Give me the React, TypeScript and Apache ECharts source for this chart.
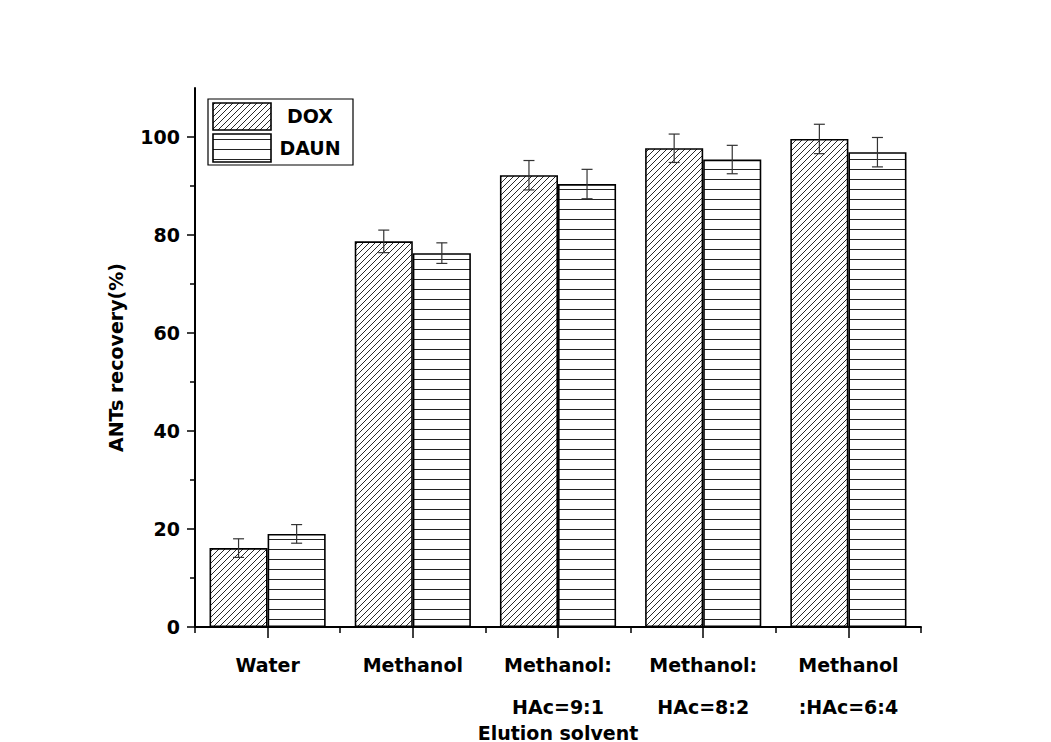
import React, { useEffect, useRef } from "react";
import * as echarts from "echarts";

const categories = [
  "Water",
  "Methanol",
  "Methanol:\nHAc=9:1",
  "Methanol:\nHAc=8:2",
  "Methanol\n:HAc=6:4",
];
const doxValues = [16.1, 78.7, 92.2, 97.7, 99.6];
const doxErrors = [1.9, 2.3, 3.0, 2.9, 3.0];
const daunValues = [19.0, 76.3, 90.4, 95.4, 96.9];
const daunErrors = [1.9, 2.1, 3.0, 2.9, 3.0];
const yMajorTicks = [0, 20, 40, 60, 80, 100];
const yMinorTicks = [10, 30, 50, 70, 90];
const seriesNames = ["DOX", "DAUN"];

const FONT = "DejaVu Sans";

function makeDiag(): HTMLCanvasElement {
  const s = 6;
  const c = document.createElement("canvas");
  c.width = s;
  c.height = s;
  const ctx = c.getContext("2d")!;
  ctx.fillStyle = "#fff";
  ctx.fillRect(0, 0, s, s);
  ctx.strokeStyle = "#2a2a2a";
  ctx.lineWidth = 1;
  ctx.beginPath();
  ctx.moveTo(0, s);
  ctx.lineTo(s, 0);
  ctx.moveTo(-1, 1);
  ctx.lineTo(1, -1);
  ctx.moveTo(s - 1, s + 1);
  ctx.lineTo(s + 1, s - 1);
  ctx.stroke();
  return c;
}

function makeHoriz(): HTMLCanvasElement {
  const c = document.createElement("canvas");
  c.width = 6;
  c.height = 10;
  const ctx = c.getContext("2d")!;
  ctx.fillStyle = "#fff";
  ctx.fillRect(0, 0, 6, 10);
  ctx.fillStyle = "#222";
  ctx.fillRect(0, 9, 6, 1);
  return c;
}

export default function App() {
  const ref = useRef<HTMLDivElement>(null);

  useEffect(() => {
    document.body.style.margin = "0";
    if (!ref.current) return;
    const chart = echarts.init(ref.current, undefined, { renderer: "svg" });

    const diag = { image: makeDiag(), repeat: "repeat" } as any;
    const horiz = { image: makeHoriz(), repeat: "repeat" } as any;

    const errData = (vals: number[], errs: number[], sign: number) =>
      vals.map((v, i) => [i, v, errs[i], sign]);

    const renderErr = (params: any, api: any) => {
      const idx = api.value(0);
      const v = api.value(1);
      const e = api.value(2);
      const sign = api.value(3);
      const band = api.size([1, 0])[0];
      const top = api.coord([idx, v + e]);
      const bot = api.coord([idx, v - e]);
      const x = top[0] + sign * band * 0.2;
      const cap = 5.5;
      const style = { stroke: "#333", lineWidth: 1.2 };
      return {
        type: "group",
        children: [
          { type: "line", shape: { x1: x, y1: top[1], x2: x, y2: bot[1] }, style },
          { type: "line", shape: { x1: x - cap, y1: top[1], x2: x + cap, y2: top[1] }, style },
          { type: "line", shape: { x1: x - cap, y1: bot[1], x2: x + cap, y2: bot[1] }, style },
        ],
      };
    };

    const labelStyle = {
      color: "#000",
      fontSize: 19,
      fontWeight: "bold",
      fontFamily: FONT,
    };

    const option: any = {
      animation: false,
      backgroundColor: "#fff",
      textStyle: { fontFamily: FONT },
      grid: {
        left: 195,
        right: 130,
        top: 88,
        height: 539,
        containLabel: false,
        outerBoundsMode: "none",
      },
      xAxis: [
        {
          type: "category",
          data: categories,
          position: "bottom",
          axisLine: { onZero: false, lineStyle: { color: "#000", width: 2 } },
          axisTick: { show: true, length: 6, lineStyle: { color: "#000", width: 1.5 } },
          axisLabel: { ...labelStyle, interval: 0, lineHeight: 42, margin: 17 },
          splitLine: { show: false },
          name: "Elution solvent",
          nameLocation: "middle",
          nameGap: 96,
          nameMoveOverlap: false,
          nameTextStyle: { ...labelStyle },
        },
        {
          type: "category",
          data: categories,
          position: "bottom",
          axisLine: { show: false, onZero: false },
          axisTick: { show: true, alignWithLabel: true, length: 11, lineStyle: { color: "#000", width: 1.5 } },
          axisLabel: { show: false },
          splitLine: { show: false },
        },
      ],
      yAxis: [
        {
          type: "value",
          min: 0,
          max: 110,
          position: "left",
          axisLine: { show: true, lineStyle: { color: "#000", width: 2 } },
          axisTick: { show: true, length: 8, customValues: yMajorTicks, lineStyle: { color: "#000", width: 1.5 } },
          axisLabel: { ...labelStyle, customValues: yMajorTicks, margin: 15 },
          splitLine: { show: false },
          name: "ANTs recovery(%)",
          nameLocation: "middle",
          nameRotate: 90,
          nameGap: 70,
          nameMoveOverlap: false,
          nameTextStyle: { ...labelStyle },
        },
        {
          type: "value",
          min: 0,
          max: 110,
          position: "left",
          axisLine: { show: false },
          axisTick: { show: true, length: 5, customValues: yMinorTicks, lineStyle: { color: "#000", width: 1.5 } },
          axisLabel: { show: false },
          splitLine: { show: false },
        },
      ],
      series: [
        {
          type: "bar",
          name: seriesNames[0],
          data: doxValues,
          barGap: "0%",
          barCategoryGap: "20%",
          itemStyle: { color: diag, borderColor: "#000", borderWidth: 1.6 },
        },
        {
          type: "bar",
          name: seriesNames[1],
          data: daunValues,
          barGap: "0%",
          barCategoryGap: "20%",
          itemStyle: { color: horiz, borderColor: "#000", borderWidth: 1.6 },
        },
        {
          type: "custom",
          name: "DOX error",
          data: errData(doxValues, doxErrors, -1),
          encode: { x: 0, y: 1 },
          renderItem: renderErr,
          z: 5,
        },
        {
          type: "custom",
          name: "DAUN error",
          data: errData(daunValues, daunErrors, 1),
          encode: { x: 0, y: 1 },
          renderItem: renderErr,
          z: 5,
        },
      ],
      graphic: [
        {
          type: "rect",
          shape: { x: 208, y: 99, width: 145, height: 66 },
          style: { fill: "#fff", stroke: "#000", lineWidth: 1.2 },
        },
        {
          type: "rect",
          shape: { x: 213, y: 103, width: 58, height: 27 },
          style: { fill: diag, stroke: "#000", lineWidth: 1.6 },
        },
        {
          type: "rect",
          shape: { x: 213, y: 134, width: 58, height: 28 },
          style: { fill: horiz, stroke: "#000", lineWidth: 1.6 },
        },
        {
          type: "text",
          x: 310,
          y: 116,
          style: {
            text: seriesNames[0],
            fill: "#000",
            font: `bold 19px "${FONT}"`,
            align: "center",
            verticalAlign: "middle",
          },
        },
        {
          type: "text",
          x: 310,
          y: 148,
          style: {
            text: seriesNames[1],
            fill: "#000",
            font: `bold 19px "${FONT}"`,
            align: "center",
            verticalAlign: "middle",
          },
        },
      ],
    };

    chart.setOption(option);
    return () => chart.dispose();
  }, []);

  return (
    <div
      ref={ref}
      style={{ position: "absolute", left: 0, top: 0, width: 1051, height: 742, background: "#fff" }}
    />
  );
}
